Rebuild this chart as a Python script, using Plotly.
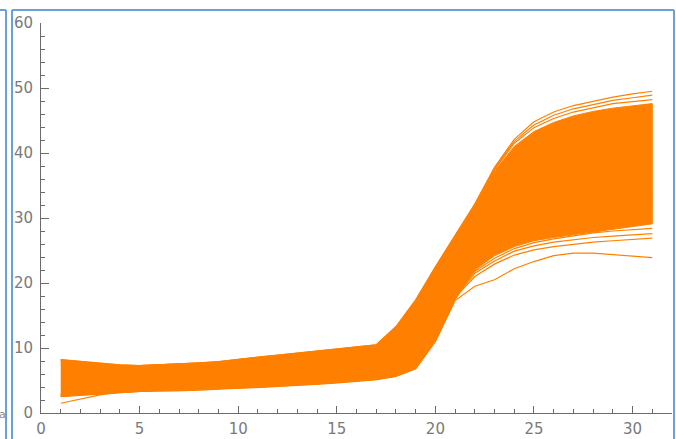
import plotly.graph_objects as go

# ---------------- data ----------------
x_vals = list(range(1, 32))

band_upper = [8.2, 7.9, 7.6, 7.4, 7.3, 7.4, 7.5, 7.7, 7.9, 8.3, 8.6, 8.9, 9.2, 9.5, 9.8, 10.1, 10.5,
              13.2, 17.3, 22.4, 27.3, 32.0, 37.2, 41.0, 43.3, 44.7, 45.7, 46.4, 46.9, 47.3, 47.6]
band_lower = [2.5, 2.7, 2.9, 3.1, 3.3, 3.4, 3.4, 3.5, 3.6, 3.8, 3.9, 4.1, 4.2, 4.4, 4.6, 4.8, 5.1,
              5.6, 6.8, 11.0, 17.4, 22.0, 24.2, 25.6, 26.5, 27.0, 27.5, 27.9, 28.3, 28.7, 29.1]

top_line_1 = [8.2, 7.9, 7.6, 7.4, 7.3, 7.4, 7.5, 7.7, 7.9, 8.3, 8.6, 8.9, 9.2, 9.5, 9.8, 10.1, 10.5,
              13.3, 17.4, 22.5, 27.4, 32.2, 37.8, 42.1, 44.8, 46.3, 47.3, 48.0, 48.6, 49.1, 49.5]
top_line_2 = [8.1, 7.8, 7.5, 7.3, 7.3, 7.4, 7.5, 7.6, 7.8, 8.2, 8.5, 8.8, 9.1, 9.4, 9.7, 10.0, 10.4,
              13.2, 17.3, 22.4, 27.2, 32.0, 37.6, 41.8, 44.3, 45.8, 46.8, 47.5, 48.1, 48.5, 48.9]
top_line_3 = [8.0, 7.7, 7.5, 7.3, 7.2, 7.3, 7.4, 7.6, 7.8, 8.1, 8.4, 8.7, 9.0, 9.3, 9.6, 9.9, 10.3,
              13.1, 17.2, 22.3, 27.1, 31.9, 37.4, 41.5, 43.9, 45.3, 46.3, 47.0, 47.6, 47.9, 48.2]

low_line_1 = [2.6, 2.8, 3.0, 3.2, 3.4, 3.5, 3.5, 3.6, 3.7, 3.9, 4.0, 4.2, 4.3, 4.5, 4.7, 4.9, 5.2,
              5.7, 6.8, 11.0, 17.3, 19.5, 20.5, 22.2, 23.3, 24.2, 24.6, 24.6, 24.4, 24.1, 23.9]
low_line_2 = [2.7, 2.9, 3.1, 3.3, 3.5, 3.6, 3.6, 3.7, 3.8, 4.0, 4.1, 4.3, 4.4, 4.6, 4.8, 5.0, 5.3,
              5.8, 7.0, 11.2, 17.8, 21.0, 22.9, 24.3, 25.1, 25.6, 26.0, 26.3, 26.5, 26.7, 26.9]
low_line_3 = [2.8, 3.0, 3.2, 3.4, 3.6, 3.7, 3.7, 3.8, 3.9, 4.1, 4.2, 4.4, 4.5, 4.7, 4.9, 5.1, 5.4,
              5.9, 7.1, 11.3, 18.0, 21.5, 23.4, 24.9, 25.7, 26.3, 26.7, 27.0, 27.2, 27.4, 27.6]
low_line_4 = [2.9, 3.1, 3.3, 3.5, 3.7, 3.8, 3.8, 3.9, 4.0, 4.2, 4.3, 4.5, 4.6, 4.8, 5.0, 5.2, 5.5,
              6.0, 7.2, 11.4, 18.2, 21.8, 23.8, 25.3, 26.2, 26.8, 27.3, 27.7, 28.0, 28.2, 28.4]
low_start_line = [1.5, 2.1, 2.8, 3.2, 3.4, 3.5, 3.5, 3.6, 3.7, 3.9, 4.0, 4.2, 4.3, 4.5, 4.7, 4.9, 5.2,
                  5.7, 6.9, 11.2, 17.6, 23.0, 26.0, 28.5, 30.0, 31.0, 31.5, 32.0, 32.3, 32.6, 32.8]

x_tick_vals = [0, 5, 10, 15, 20, 25, 30]
y_tick_vals = [0, 10, 20, 30, 40, 50, 60]

# ---------------- styling ----------------
ORANGE = "#FF8000"
W, H = 676, 439
ML, MR, MT, MB = 41, 4, 23, 26
PW, PH = W - ML - MR, H - MT - MB


def px(xp):
    return (xp - ML) / PW


def py(yp):
    return (H - MB - yp) / PH


fig = go.Figure()

# filled envelope of the dense bundle of curves
fig.add_trace(go.Scatter(
    x=x_vals + x_vals[::-1],
    y=band_upper + band_lower[::-1],
    fill="toself", fillcolor=ORANGE,
    mode="lines", line=dict(color=ORANGE, width=1),
    hoverinfo="skip", showlegend=False,
))

for series in [top_line_1, top_line_2, top_line_3,
               low_line_1, low_line_2, low_line_3, low_line_4, low_start_line]:
    fig.add_trace(go.Scatter(
        x=x_vals, y=series, mode="lines",
        line=dict(color=ORANGE, width=1.2),
        showlegend=False,
    ))

axis_col = "#6b6b6b"
label_font = dict(family="DejaVu Sans", size=15, color="#7a7a7a")

fig.update_xaxes(
    range=[0, 32], showgrid=False, zeroline=False,
    showline=True, linecolor=axis_col, linewidth=1,
    ticks="inside", ticklen=7, tickcolor=axis_col, tickwidth=1,
    tickvals=x_tick_vals, ticktext=[str(v) for v in x_tick_vals],
    tickfont=label_font, ticklabelstandoff=2,
    minor=dict(dtick=1, tick0=0, ticks="inside", ticklen=4, tickcolor=axis_col, showgrid=False),
)
fig.update_yaxes(
    range=[0, 60], showgrid=False, zeroline=False,
    showline=True, linecolor=axis_col, linewidth=1,
    ticks="inside", ticklen=8, tickcolor=axis_col, tickwidth=1,
    tickvals=y_tick_vals, ticktext=[str(v) for v in y_tick_vals],
    tickfont=label_font, ticklabelstandoff=4,
    minor=dict(dtick=2, tick0=0, ticks="inside", ticklen=4, tickcolor=axis_col, showgrid=False),
)

frame_col = "#6a9fdc"
shapes = []
for (x0, y0, x1, y1) in [
    (0, 10, 6, 10), (6, 10, 6, 439),
    (12, 10, 12, 439), (12, 10, 674, 10), (674, 10, 674, 439),
]:
    shapes.append(dict(type="line", xref="paper", yref="paper",
                       x0=px(x0), y0=py(y0), x1=px(x1), y1=py(y1),
                       line=dict(color=frame_col, width=2)))

fig.update_layout(
    width=W, height=H,
    margin=dict(l=ML, r=MR, t=MT, b=MB, autoexpand=False),
    paper_bgcolor="white", plot_bgcolor="white",
    shapes=shapes,
    annotations=[dict(text="a", xref="paper", yref="paper", x=px(-3), y=py(414),
                      xanchor="left", yanchor="middle", showarrow=False,
                      font=dict(family="DejaVu Sans", size=11, color="#888888"))],
)

fig.write_html("out.html")
